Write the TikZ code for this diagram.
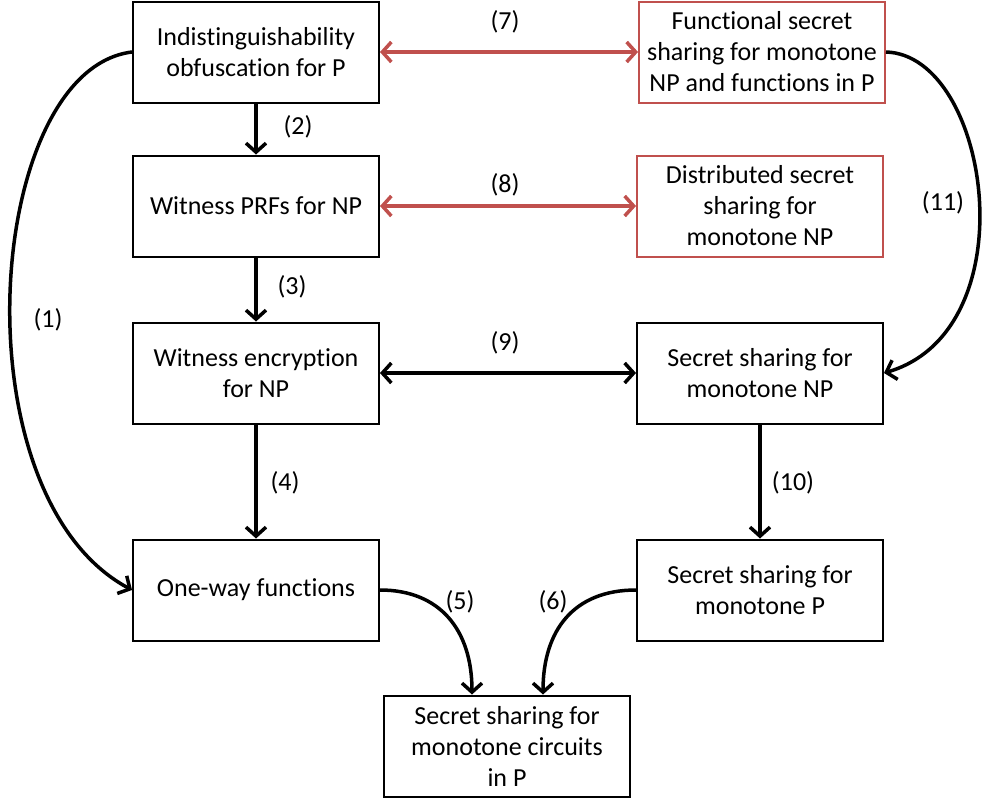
\documentclass[tikz,border=0pt]{standalone}
\usepackage{fontspec}
\setmainfont[Ligatures=NoCommon]{Carlito}
\usetikzlibrary{arrows.meta}
\definecolor{redline}{RGB}{192,80,77}
\tikzset{
  box/.style={draw=black,line width=2pt,minimum width=246pt,minimum height=101pt,align=center,inner sep=0pt,font=\fontsize{26}{31}\selectfont},
  redbox/.style={box,draw=redline},
  lbl/.style={font=\fontsize{26}{31}\selectfont},
  tip/.tip={Straight Barb[length=9pt,width=20pt,line width=3.5pt]},
  arr/.style={line width=3.5pt,-tip},
  twoway/.style={line width=3.5pt,tip-tip},
}
\begin{document}
\begin{tikzpicture}[x=1pt,y=1pt,yscale=-1]
\useasboundingbox (0,0) rectangle (985,801);

%Shape: Rectangle [left column]
\node [box] (iO) at (256,52) {Indistinguishability\\obfuscation for P};
\node [box] (wprf) at (256,206) {Witness PRFs for NP};
\node [box] (we) at (256,373) {Witness encryption\\for NP};
\node [box] (owf) at (256,590) {One-way functions};

%Shape: Rectangle [right column]
\node [redbox] (fss) at (762,52) {Functional secret\\sharing for monotone\\NP and functions in P};
\node [redbox] (dss) at (760,206) {Distributed secret\\sharing for\\monotone NP};
\node [box] (ssnp) at (760,373) {Secret sharing for\\monotone NP};
\node [box] (ssp) at (760,590) {Secret sharing for\\monotone P};

%Shape: Rectangle [bottom]
\node [box] (ssc) at (507,746) {Secret sharing for\\monotone circuits\\in P};

%Straight Lines
\draw [arr] (iO) -- (wprf);
\draw [arr] (wprf) -- (we);
\draw [arr] (we) -- (owf);
\draw [arr] (ssnp) -- (ssp);
\draw [twoway,draw=redline] (iO) -- (fss);
\draw [twoway,draw=redline] (wprf) -- (dss);
\draw [twoway] (we) -- (ssnp);

%Curve Lines
\draw [arr] (iO.west) .. controls (-15,70) and (-45,495) .. (owf.west);
\draw [arr] (fss.east) .. controls (990,55) and (1030,330) .. (ssnp.east);
\draw [arr] (owf.east) .. controls (440,590) and (472,630) .. ([xshift=-35pt]ssc.north);
\draw [arr] (ssp.west) .. controls (574,590) and (543,630) .. ([xshift=36pt]ssc.north);

% Text Node
\node [lbl] (l1) at (48,320) {(1)};
\node [lbl] (l2) at (298,127) {(2)};
\node [lbl] (l3) at (292,287) {(3)};
\node [lbl] (l4) at (285,483) {(4)};
\node [lbl] (l5) at (460,602) {(5)};
\node [lbl] (l6) at (553,602) {(6)};
\node [lbl] (l7) at (505,22) {(7)};
\node [lbl] (l8) at (505,185) {(8)};
\node [lbl] (l9) at (505,343) {(9)};
\node [lbl] (l10) at (793,483) {(10)};
\node [lbl] (l11) at (943,203) {(11)};

\end{tikzpicture}
\end{document}
